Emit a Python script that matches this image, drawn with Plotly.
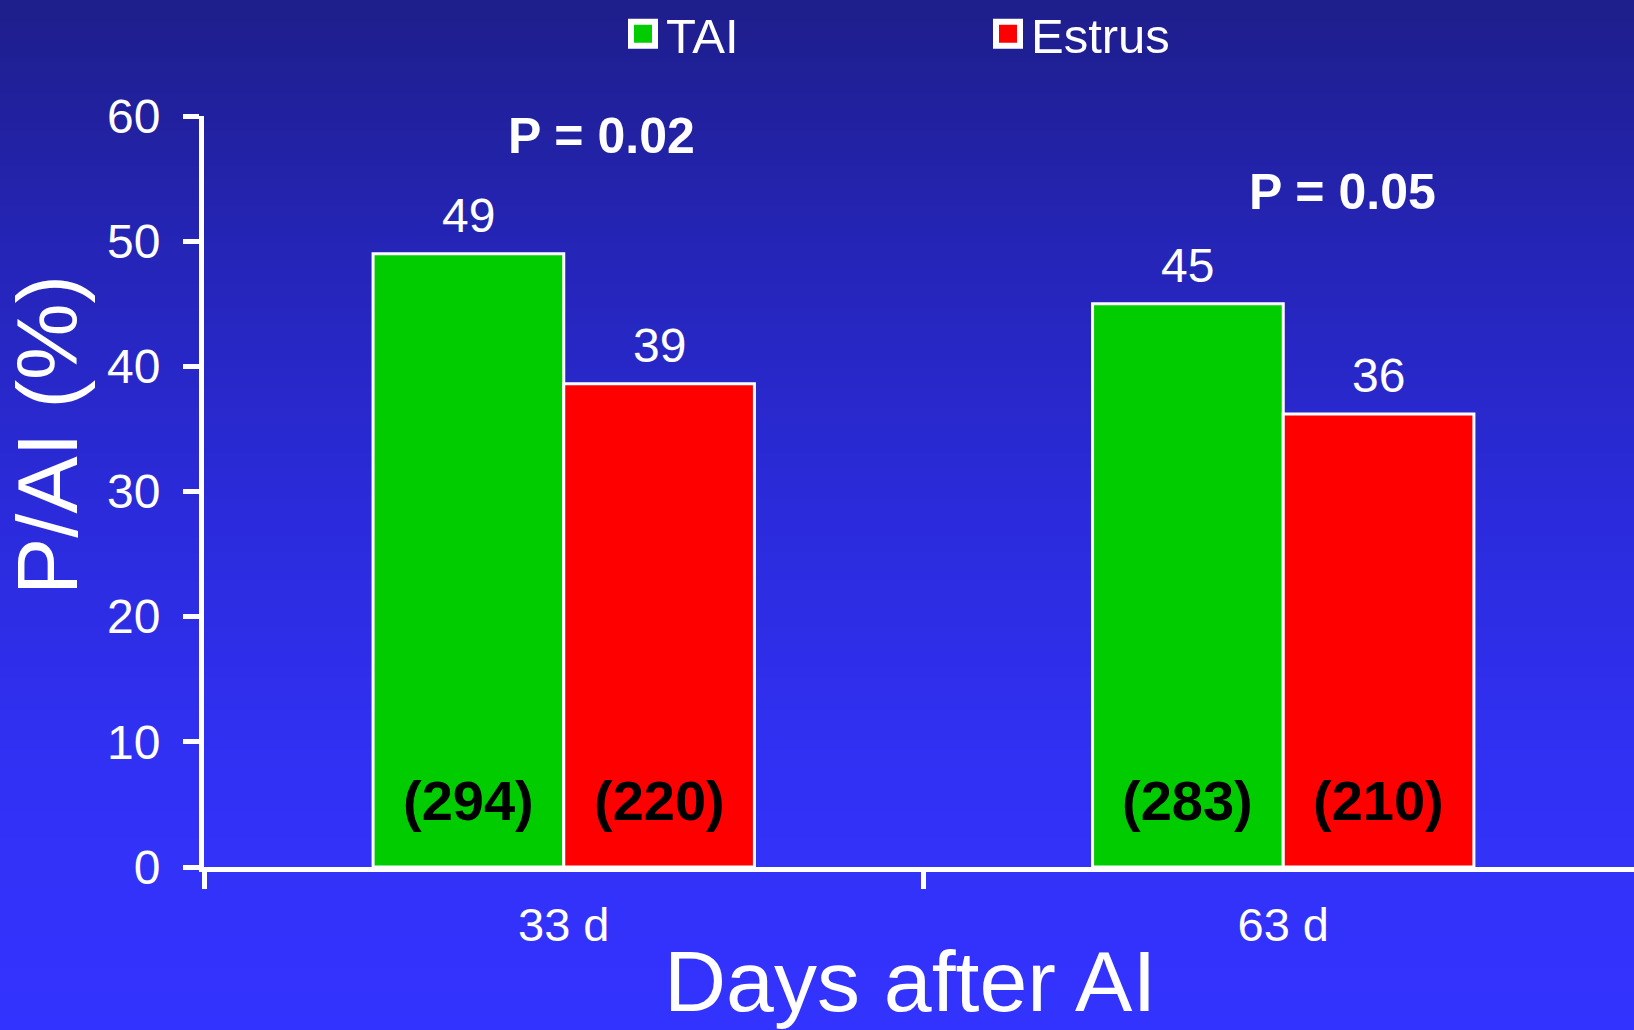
import base64
import struct
import zlib

import plotly.graph_objects as go

# ---------------- data ----------------
categories = ["33 d", "63 d"]
tai_values = [49.0, 45.0]
estrus_values = [38.6, 36.2]
tai_labels = ["49", "45"]
estrus_labels = ["39", "36"]
tai_counts = ["(294)", "(283)"]
estrus_counts = ["(220)", "(210)"]
p_texts = ["P = 0.02", "P = 0.05"]
y_ticks = [0, 10, 20, 30, 40, 50, 60]

# ---------------- layout constants ----------------
W, H = 1634, 1030
ML, MR, MT, MB = 204, 0, 116, 163
PW, PH = W - ML - MR, H - MT - MB
FONT = "Liberation Sans, Arial, Helvetica, sans-serif"
GREEN = "#00cc00"
RED = "#ff0000"
BARGAP = 0.47
OFF = (1 - BARGAP) / 4


def gradient_png(stops, h=256):
    rows = b""
    for i in range(h):
        t = i / (h - 1)
        for j in range(len(stops) - 1):
            t0, c0 = stops[j]
            t1, c1 = stops[j + 1]
            if t0 <= t <= t1:
                f = (t - t0) / (t1 - t0)
                col = [round(a + (b - a) * f) for a, b in zip(c0, c1)]
                break
        rows += b"\x00" + bytes(col * 2)

    def chunk(tag, data):
        return (struct.pack(">I", len(data)) + tag + data
                + struct.pack(">I", zlib.crc32(tag + data) & 0xFFFFFFFF))

    png = (b"\x89PNG\r\n\x1a\n"
           + chunk(b"IHDR", struct.pack(">IIBBBBB", 2, h, 8, 2, 0, 0, 0))
           + chunk(b"IDAT", zlib.compress(rows))
           + chunk(b"IEND", b""))
    return "data:image/png;base64," + base64.b64encode(png).decode()


bg = gradient_png([
    (0.0, (30, 30, 140)),
    (0.25, (37, 37, 185)),
    (0.5, (43, 43, 220)),
    (0.75, (49, 49, 245)),
    (1.0, (51, 51, 255)),
])

fig = go.Figure()
fig.add_trace(go.Bar(
    name="TAI", x=categories, y=tai_values,
    marker=dict(color=GREEN, line=dict(color="white", width=3)),
    hoverinfo="skip",
))
fig.add_trace(go.Bar(
    name="Estrus", x=categories, y=estrus_values,
    marker=dict(color=RED, line=dict(color="white", width=3)),
    hoverinfo="skip",
))

annotations = []
for i in range(len(categories)):
    for off, val, lab, cnt in ((-OFF, tai_values[i], tai_labels[i], tai_counts[i]),
                               (OFF, estrus_values[i], estrus_labels[i], estrus_counts[i])):
        annotations.append(dict(
            x=i + off, y=val, xref="x", yref="y", text=lab, showarrow=False,
            yanchor="middle", yshift=38,
            font=dict(family=FONT, size=48, color="white")))
        annotations.append(dict(
            x=i + off, y=0, xref="x", yref="y", text="<b>" + cnt + "</b>",
            showarrow=False, yanchor="middle", yshift=67,
            font=dict(family=FONT, size=56, color="black")))

annotations.append(dict(x=0.053, y=58.4, xref="x", yref="y",
                        text="<b>" + p_texts[0] + "</b>", showarrow=False,
                        font=dict(family=FONT, size=50, color="white")))
annotations.append(dict(x=1.082, y=53.9, xref="x", yref="y",
                        text="<b>" + p_texts[1] + "</b>", showarrow=False,
                        font=dict(family=FONT, size=50, color="white")))

annotations.append(dict(x=(47 - ML) / PW, y=(867 - 435) / PH, xref="paper", yref="paper",
                        text="P/AI (%)", textangle=-90, showarrow=False,
                        xanchor="center", yanchor="middle",
                        font=dict(family=FONT, size=86, color="white")))
annotations.append(dict(x=(910 - ML) / PW, y=(867 - 981) / PH, xref="paper", yref="paper",
                        text="Days after AI", showarrow=False,
                        xanchor="center", yanchor="middle",
                        font=dict(family=FONT, size=86, color="white")))

fig.update_layout(
    width=W, height=H,
    margin=dict(l=ML, r=MR, t=MT, b=MB, pad=0, autoexpand=False),
    paper_bgcolor="#2b2bd0",
    plot_bgcolor="rgba(0,0,0,0)",
    barmode="group", bargap=BARGAP, bargroupgap=0,
    font=dict(family=FONT, color="white"),
    images=[dict(source=bg, xref="paper", yref="paper",
                 x=-ML / PW, y=1 + MT / PH, sizex=W / PW, sizey=H / PH,
                 xanchor="left", yanchor="top", sizing="stretch", layer="below")],
    legend=dict(orientation="h", x=(626 - ML) / PW, y=1 + (MT - 34) / PH,
                xanchor="left", yanchor="middle", entrywidth=320,
                font=dict(family=FONT, size=49, color="white"),
                bgcolor="rgba(0,0,0,0)"),
    annotations=annotations,
    showlegend=True,
)
fig.update_xaxes(
    range=[-0.5, 1.4875], tickson="boundaries",
    showline=True, linecolor="white", linewidth=5,
    ticks="outside", ticklen=17, tickwidth=5, tickcolor="white",
    tickfont=dict(family=FONT, size=47, color="white"),
    ticklabelstandoff=13, showgrid=False, zeroline=False,
)
fig.update_yaxes(
    range=[0, 60], tickvals=y_ticks,
    showline=True, linecolor="white", linewidth=5,
    ticks="outside", ticklen=16, tickwidth=5, tickcolor="white",
    tickfont=dict(family=FONT, size=48, color="white"),
    ticklabelstandoff=13, showgrid=False, zeroline=False,
)

post = (
    "document.body.style.margin='0';"
    "document.querySelectorAll('.legendpoints path').forEach(function(p){"
    "var t=p.getAttribute('transform')||'';"
    "p.setAttribute('transform',t+' translate(-3,0) scale(2.0)');});"
)
fig.write_html("out.html", config={"displayModeBar": False}, post_script=post)
